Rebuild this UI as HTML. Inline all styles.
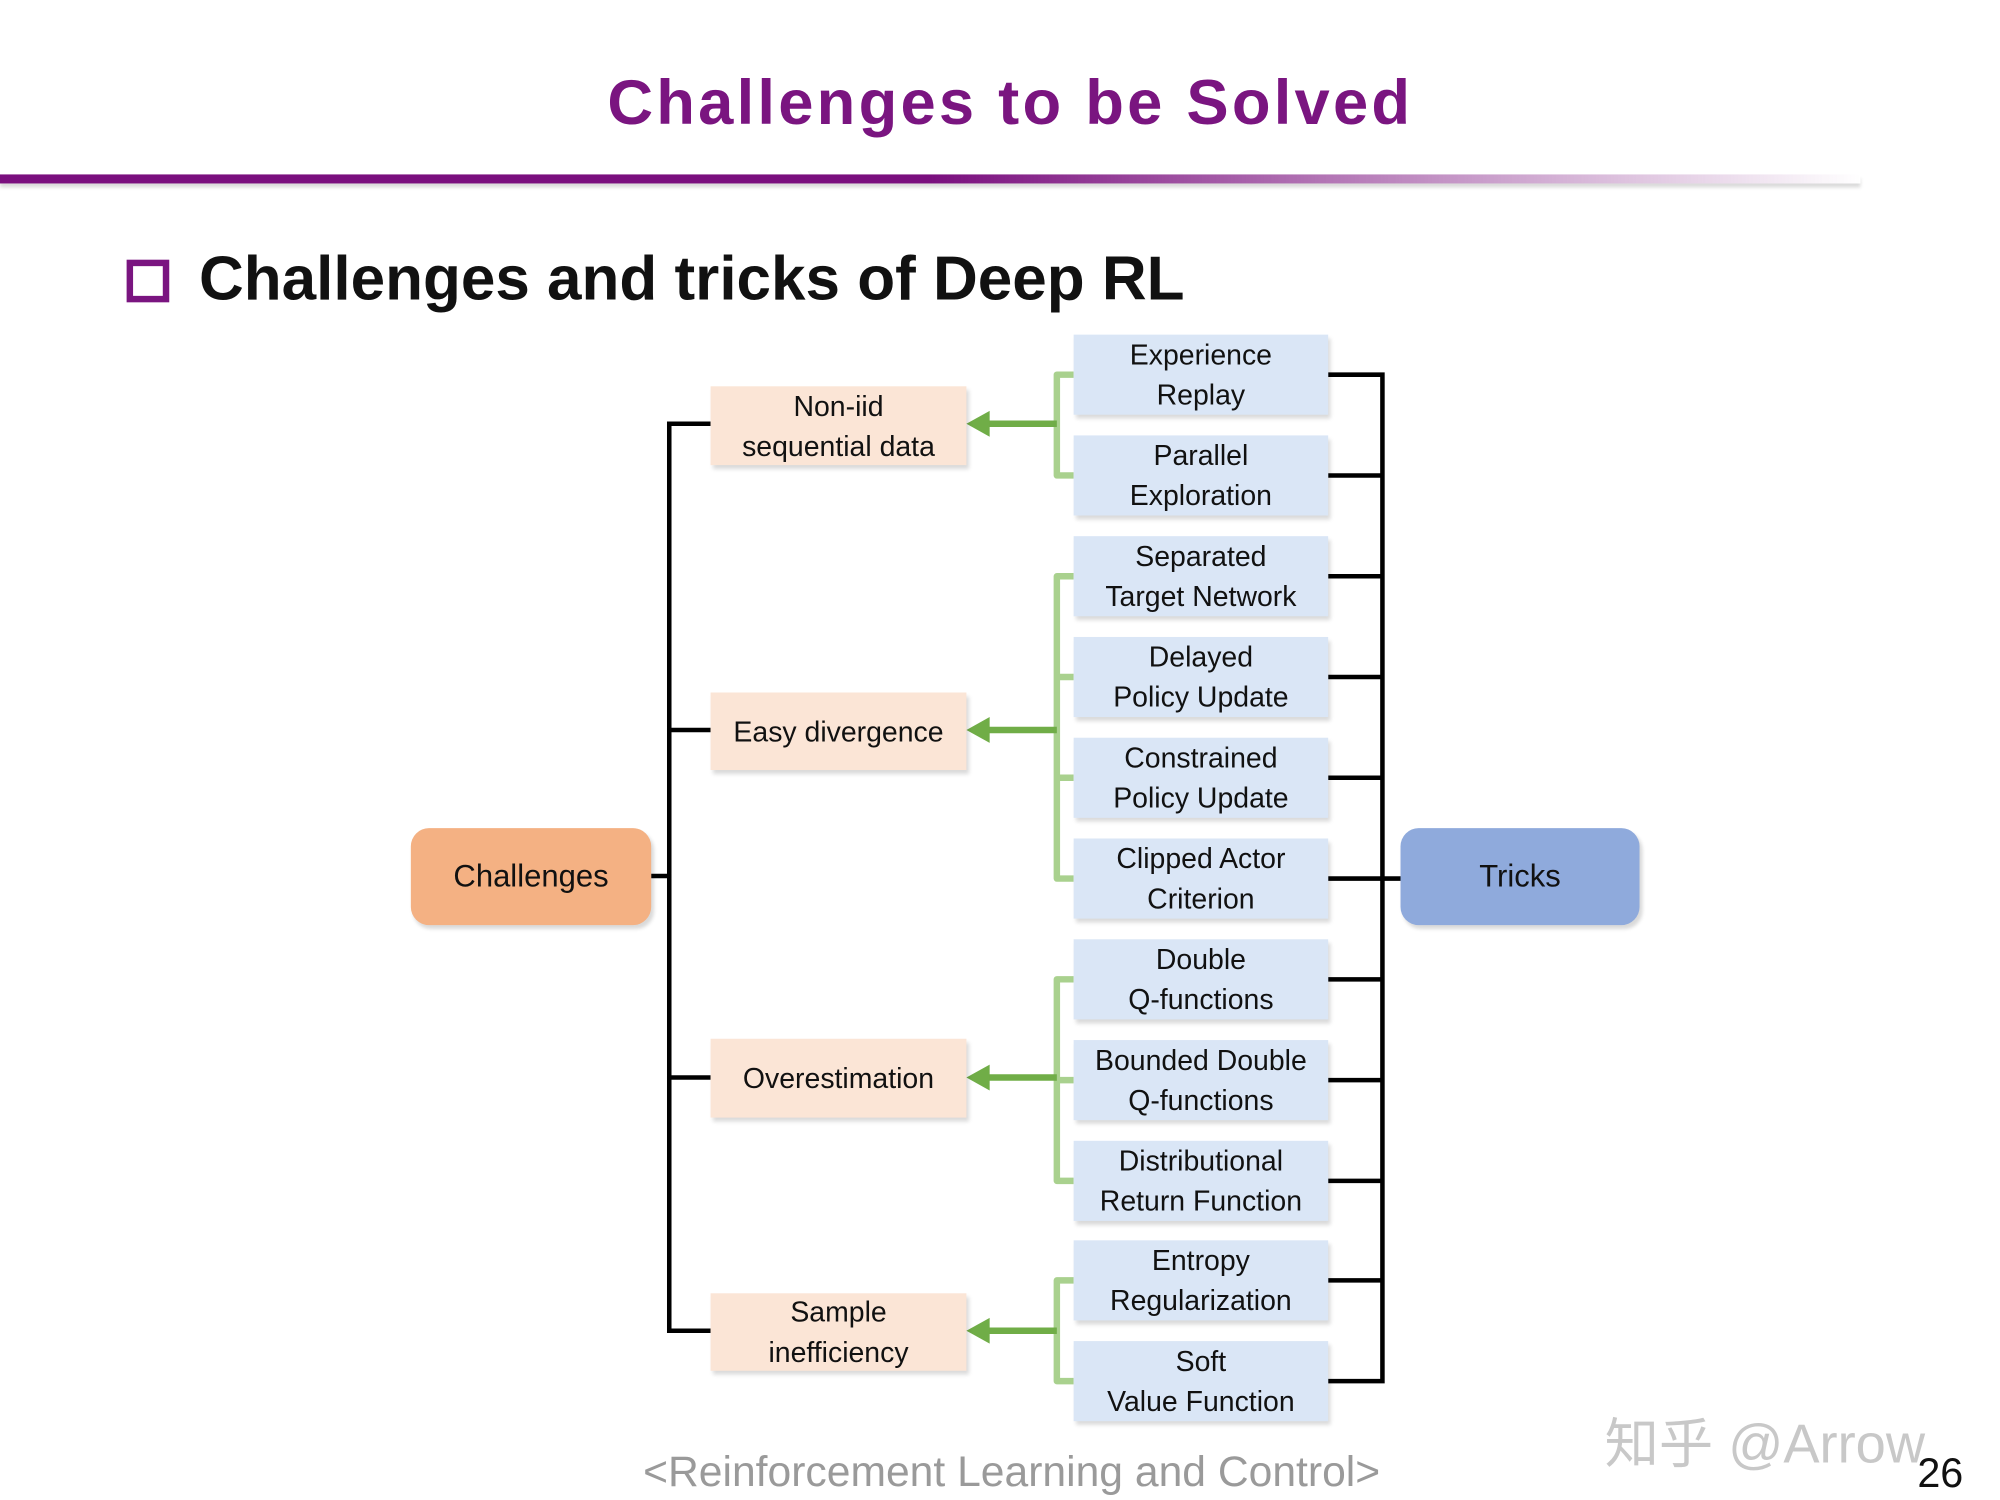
<!DOCTYPE html>
<html><head><meta charset="utf-8"><style>
html,body{margin:0;padding:0;background:#fff;overflow:hidden}
#w{width:2000px;height:1500px;position:relative;overflow:hidden}
#c{position:absolute;left:0;top:0;width:1548px;height:1161px;transform:scale(1.29199);transform-origin:0 0;font-family:"Liberation Sans",sans-serif}
.a{position:absolute}
.t{position:absolute;display:flex;align-items:center;justify-content:center;text-align:center;font-size:22px;line-height:31px;color:#111}
.o{background:#FBE5D6;box-shadow:2px 3px 3px rgba(0,0,0,.15)}
.b{background:#DAE6F6;box-shadow:2px 3px 3px rgba(0,0,0,.15)}
</style></head><body><div id="w"><div id="c">
<div class="a" style="left:0;width:1548px;top:52px;text-align:center;font-size:49px;font-weight:bold;color:#7A1580;letter-spacing:2.5px;padding-left:16px;box-sizing:border-box">Challenges to be Solved</div>
<div class="a" style="left:0;top:135px;width:1440px;height:7px;background:linear-gradient(90deg,#7A0F7E 0%,#7A0F7E 50%,rgba(122,15,126,0) 100%);box-shadow:0 3px 3px rgba(0,0,0,.15)"></div>
<div class="a" style="left:98px;top:201px;width:23px;height:23px;border:5px solid #7A1580"></div>
<div class="a" style="left:154px;top:189px;font-size:48px;font-weight:bold;color:#111">Challenges and tricks of Deep RL</div>

<svg class="a" style="left:0;top:0" width="1548" height="1161">
<g stroke="#000" stroke-width="3.5" fill="none">
<path d="M550 328H518V1030H550M518 565H550M518 834H550M504 678H518"/>
<path d="M1028 290H1070V1069H1028M1028 368H1070M1028 446H1070M1028 524H1070M1028 602H1070M1028 680H1084M1028 758H1070M1028 836H1070M1028 914H1070M1028 991H1070"/>
</g>
<g stroke="#A9D18E" stroke-width="5" fill="none" stroke-linejoin="round">
<path d="M831 290H818V368H831"/>
<path d="M831 446H818V680H831M818 524H831M818 602H831"/>
<path d="M831 758H818V914H831M818 836H831"/>
<path d="M831 991H818V1069H831"/>
</g>
<g stroke="#70AD47" stroke-width="5">
<path d="M818 328H760M818 565H760M818 834H760M818 1030H760"/>
</g>
<g fill="#70AD47">
<path d="M748 328l18-10v20z"/><path d="M748 565l18-10v20z"/><path d="M748 834l18-10v20z"/><path d="M748 1030l18-10v20z"/>
</g>
</svg>

<div class="t" style="left:318px;top:641px;width:186px;height:75px;background:#F4B183;border-radius:14px;font-size:24px;box-shadow:2px 3px 3px rgba(0,0,0,.15)">Challenges</div>
<div class="t" style="left:1084px;top:641px;width:185px;height:75px;background:#8FAADC;border-radius:14px;font-size:24px;box-shadow:2px 3px 3px rgba(0,0,0,.15)">Tricks</div>

<div class="t o" style="left:550px;top:299px;width:198px;height:61px">Non-iid<br>sequential data</div>
<div class="t o" style="left:550px;top:536px;width:198px;height:60px">Easy divergence</div>
<div class="t o" style="left:550px;top:804px;width:198px;height:61px">Overestimation</div>
<div class="t o" style="left:550px;top:1001px;width:198px;height:60px">Sample<br>inefficiency</div>

<div class="t b" style="left:831px;top:259px;width:197px;height:62px">Experience<br>Replay</div>
<div class="t b" style="left:831px;top:337px;width:197px;height:62px">Parallel<br>Exploration</div>
<div class="t b" style="left:831px;top:415px;width:197px;height:62px">Separated<br>Target Network</div>
<div class="t b" style="left:831px;top:493px;width:197px;height:62px">Delayed<br>Policy Update</div>
<div class="t b" style="left:831px;top:571px;width:197px;height:62px">Constrained<br>Policy Update</div>
<div class="t b" style="left:831px;top:649px;width:197px;height:62px">Clipped Actor<br>Criterion</div>
<div class="t b" style="left:831px;top:727px;width:197px;height:62px">Double<br>Q-functions</div>
<div class="t b" style="left:831px;top:805px;width:197px;height:62px">Bounded Double<br>Q-functions</div>
<div class="t b" style="left:831px;top:883px;width:197px;height:62px">Distributional<br>Return Function</div>
<div class="t b" style="left:831px;top:960px;width:197px;height:62px">Entropy<br>Regularization</div>
<div class="t b" style="left:831px;top:1038px;width:197px;height:62px">Soft<br>Value Function</div>

<div class="a" style="left:0;width:1566px;top:1120px;text-align:center;font-size:33px;color:#9a9a9a">&lt;Reinforcement Learning and Control&gt;</div>
<div class="a" style="left:1242px;top:1084px;font-size:42px;color:#c8c8c8;font-family:'Liberation Sans','Noto Sans CJK SC',sans-serif">知乎 @Arrow</div>
<div class="a" style="left:1484px;top:1122px;font-size:32px;color:#111">26</div>
</div></div></body></html>
